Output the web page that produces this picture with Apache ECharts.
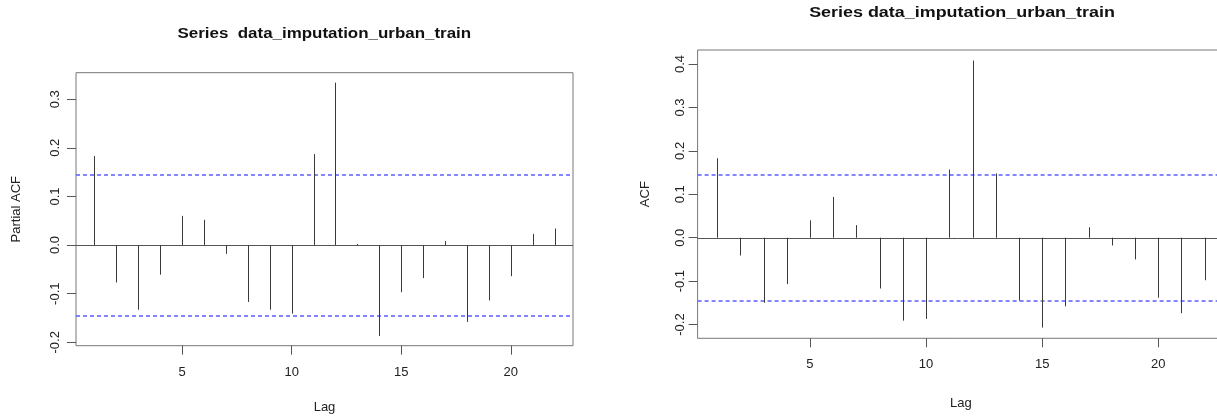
<!DOCTYPE html>
<html><head><meta charset="utf-8">
<script src="https://cdn.jsdelivr.net/npm/echarts@6/dist/echarts.min.js"></script>
<style>html,body{margin:0;padding:0;background:#fff}#c{width:1217px;height:416px}</style>
</head><body><div id="c"></div>
<script>
const lags = [1,2,3,4,5,6,7,8,9,10,11,12,13,14,15,16,17,18,19,20,21,22];
const pacfValues = [0.183,-0.077,-0.133,-0.061,0.060,0.052,-0.018,-0.117,-0.133,-0.141,0.187,0.334,0.002,-0.187,-0.097,-0.068,0.008,-0.158,-0.114,-0.064,0.023,0.034];
const acfValues = [0.183,-0.041,-0.150,-0.107,0.040,0.094,0.029,-0.117,-0.191,-0.187,0.157,0.408,0.148,-0.145,-0.207,-0.158,0.024,-0.018,-0.050,-0.138,-0.174,-0.098];
const confLimit = 0.145;
const lagRange = [0.16, 22.84];
const xTicks = [5,10,15,20];
const pacfYTicks = [-0.2,-0.1,0.0,0.1,0.2,0.3];
const acfYTicks = [-0.2,-0.1,0.0,0.1,0.2,0.3,0.4];
const titleText = 'Series  data_imputation_urban_train';
const titleTextRight = 'Series data_imputation_urban_train';

const FONT = '"Liberation Sans", Arial, sans-serif';
const chart = echarts.init(document.getElementById('c'), null, {renderer:'canvas'});

function spike(params, api){
  const p0 = api.coord([api.value(0), 0]);
  const p1 = api.coord([api.value(0), api.value(1)]);
  const x = Math.round(p0[0]) + 0.5;
  return {type:'line', shape:{x1:x,y1:p0[1],x2:x,y2:p1[1]}, style:{stroke:'#3a3a3a', lineWidth:1}};
}
// horizontal reference lines: value 0 solid grey, confidence limits dashed blue
function refLine(params, api){
  const cs = params.coordSys;
  const v = api.value(0);
  const isZero = v === 0;
  const yc = api.coord([lagRange[0], v])[1];
  const y = isZero ? Math.round(yc) + 0.5 : Math.round(yc);
  return {type:'line', shape:{x1:cs.x, y1:y, x2:cs.x+cs.width, y2:y},
    style: isZero ? {stroke:'#555', lineWidth:1} : {stroke:'#5c5cff', lineWidth:1.7, lineDash:[4,3]}};
}
function xAxisCfg(gi){
  return {type:'value', gridIndex:gi, min:lagRange[0], max:lagRange[1], name:'Lag', nameLocation:'middle', nameGap: gi===0?55:59,
    nameTextStyle:{fontFamily:FONT,fontSize:13,color:'#222'},
    axisLine:{show:false, onZero:false}, splitLine:{show:false},
    axisTick:{show:true, length:9, lineStyle:{color:'#555'}, customValues:xTicks},
    axisLabel:{fontFamily:FONT,fontSize:13,color:'#222',margin:20, customValues:xTicks, formatter:v=>String(v)}};
}
function yAxisCfg(gi, mn, mx, ticks, name){
  return {type:'value', gridIndex:gi, min:mn, max:mx, name:name, nameLocation:'middle', nameGap: gi===0?53:46,
    nameTextStyle:{fontFamily:FONT,fontSize:13,color:'#222'},
    axisLine:{show:false, onZero:false}, splitLine:{show:false},
    axisTick:{show:true, length:9, lineStyle:{color:'#555'}, customValues:ticks},
    axisLabel:{fontFamily:FONT,fontSize:13,color:'#222',rotate:90,margin: gi===0?14:11, customValues:ticks, formatter:v=>v.toFixed(1)}};
}
const refValues = [0, confLimit, -confLimit];
const option = {
  animation:false,
  backgroundColor:'#fff',
  grid:[
    {left:76, top:72.7, width:497, height:273, show:true, borderColor:'#777', borderWidth:1, backgroundColor:'transparent', containLabel:false, outerBoundsMode:'none'},
    {left:697.6, top:50, width:526.6, height:288.3, show:true, borderColor:'#777', borderWidth:1, backgroundColor:'transparent', containLabel:false, outerBoundsMode:'none'}
  ],
  xAxis:[xAxisCfg(0), xAxisCfg(1)],
  yAxis:[yAxisCfg(0,-0.207,0.3545,pacfYTicks,'Partial ACF'), yAxisCfg(1,-0.2317,0.4323,acfYTicks,'ACF')],
  graphic:[
    {type:'text', x:324.3, y:33.7, scaleX:1.21, style:{text:titleText, align:'center', verticalAlign:'middle', font:'bold 14px '+FONT, fill:'#111'}},
    {type:'text', x:962, y:13.5, scaleX:1.28, style:{text:titleTextRight, align:'center', verticalAlign:'middle', font:'bold 14px '+FONT, fill:'#111'}}
  ],
  series:[
    {type:'custom', xAxisIndex:0, yAxisIndex:0, renderItem:refLine, data:refValues.map(v=>[v]), encode:{y:0}, silent:true, z:1},
    {type:'custom', xAxisIndex:1, yAxisIndex:1, renderItem:refLine, data:refValues.map(v=>[v]), encode:{y:0}, silent:true, z:1},
    {type:'custom', xAxisIndex:0, yAxisIndex:0, renderItem:spike, data:lags.map((l,i)=>[l,pacfValues[i]]), silent:true, z:2},
    {type:'custom', xAxisIndex:1, yAxisIndex:1, renderItem:spike, data:lags.map((l,i)=>[l,acfValues[i]]), silent:true, z:2}
  ]
};
chart.setOption(option);
</script></body></html>
